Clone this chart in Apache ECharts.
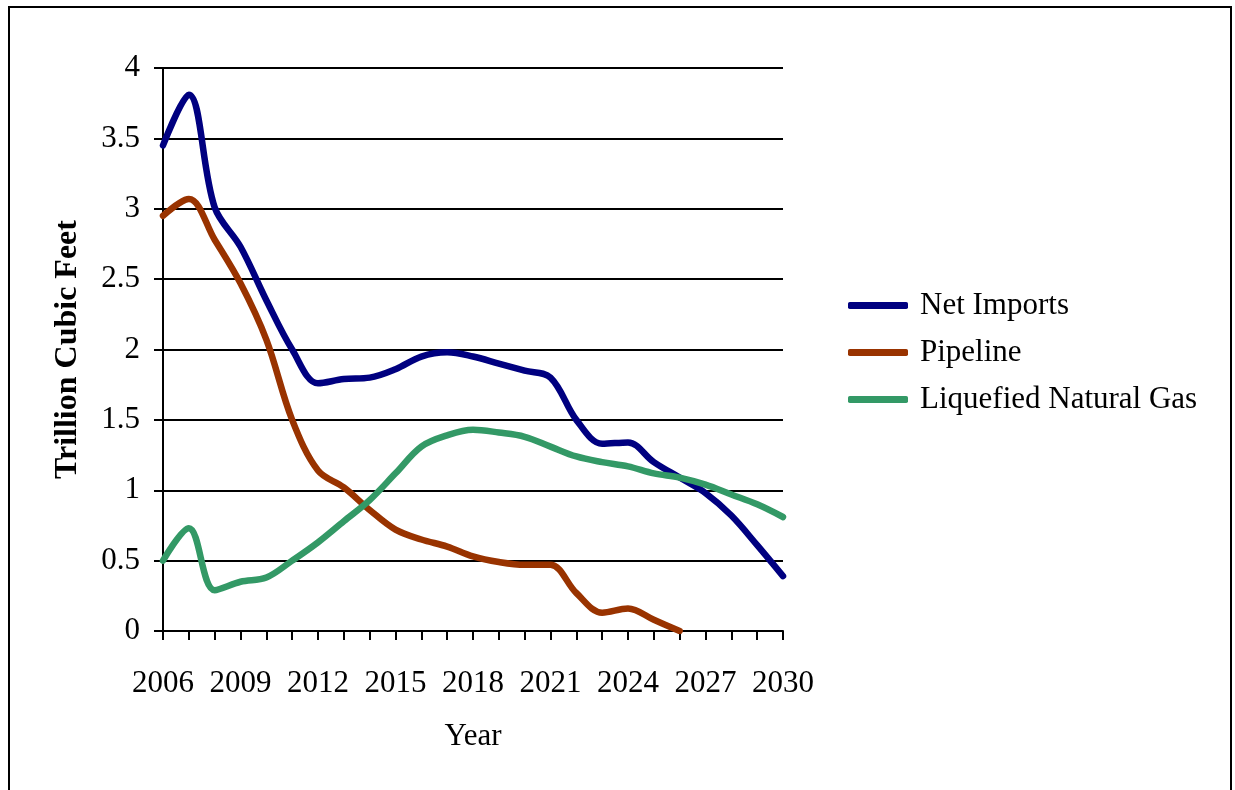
<!DOCTYPE html>
<html>
<head>
<meta charset="utf-8">
<script src="https://cdn.jsdelivr.net/npm/echarts@6/dist/echarts.min.js"></script>
<style>
  html, body { margin: 0; padding: 0; background: #fff; }
  #chart { width: 1235px; height: 790px; }
</style>
</head>
<body>
<div id="chart"></div>
<script>
// Years on the horizontal axis
const years = ['2006','2007','2008','2009','2010','2011','2012','2013','2014','2015','2016','2017','2018',
               '2019','2020','2021','2022','2023','2024','2025','2026','2027','2028','2029','2030'];

// Trillion cubic feet per year
const netImports = [3.45, 3.81, 3.01, 2.73, 2.35, 2.00, 1.76, 1.79, 1.80, 1.86, 1.95, 1.98, 1.95,
                    1.90, 1.85, 1.80, 1.50, 1.33, 1.34, 1.20, 1.09, 0.98, 0.82, 0.61, 0.39];
const pipeline   = [2.95, 3.07, 2.78, 2.47, 2.07, 1.50, 1.14, 1.02, 0.86, 0.72, 0.65, 0.60, 0.53,
                    0.49, 0.47, 0.47, 0.27, 0.13, 0.16, 0.08, 0.00, null, null, null, null];
const lng        = [0.50, 0.73, 0.29, 0.35, 0.38, 0.50, 0.63, 0.78, 0.93, 1.12, 1.31, 1.39, 1.43,
                    1.41, 1.38, 1.31, 1.24, 1.20, 1.17, 1.12, 1.09, 1.04, 0.97, 0.90, 0.81];

const seriesNames = ['Net Imports', 'Pipeline', 'Liquefied Natural Gas'];
const seriesColors = ['#000080', '#993300', '#339966'];

const FONT = '"Liberation Serif", "Times New Roman", serif';
const FS = 31;

function lineSeries(name, data, color) {
  return {
    name: name,
    type: 'line',
    data: data,
    smooth: 0.35,
    showSymbol: false,
    connectNulls: false,
    lineStyle: { color: color, width: 6.5, cap: 'round', join: 'round' },
    itemStyle: { color: color },
    emphasis: { disabled: true }
  };
}

const chart = echarts.init(document.getElementById('chart'), null, { renderer: 'canvas' });
chart.setOption({
  animation: false,
  backgroundColor: '#fff',
  textStyle: { fontFamily: FONT, color: '#000' },
  graphic: [{
    type: 'rect',
    shape: { x: 9, y: 7, width: 1222, height: 800 },
    style: { fill: 'none', stroke: '#000', lineWidth: 2 },
    silent: true
  }],
  grid: { left: 163, top: 68, right: 452, bottom: 159, containLabel: false },
  legend: {
    orient: 'vertical',
    left: 843,
    top: 285,
    itemWidth: 60,
    itemHeight: 7,
    itemGap: 16,
    icon: 'roundRect',
    data: seriesNames,
    textStyle: { fontFamily: FONT, fontSize: FS, color: '#000', padding: [0, 0, 0, 7] },
    selectedMode: false
  },
  xAxis: {
    type: 'category',
    data: years,
    boundaryGap: false,
    name: 'Year',
    nameLocation: 'middle',
    nameGap: 90,
    nameTextStyle: { fontFamily: FONT, fontSize: FS, color: '#000' },
    axisLine: { lineStyle: { color: '#000', width: 2 } },
    axisTick: { show: true, interval: 0, length: 9, inside: false, lineStyle: { color: '#000', width: 2 } },
    axisLabel: { interval: 2, margin: 37, fontFamily: FONT, fontSize: FS, color: '#000' },
    splitLine: { show: false }
  },
  yAxis: {
    type: 'value',
    min: 0,
    max: 4,
    interval: 0.5,
    name: 'Trillion Cubic Feet',
    nameLocation: 'middle',
    nameGap: 79,
    nameRotate: 90,
    nameTextStyle: { fontFamily: FONT, fontSize: 32, fontWeight: 'bold', color: '#000' },
    axisLine: { show: true, lineStyle: { color: '#000', width: 2 } },
    axisTick: { show: true, length: 9, lineStyle: { color: '#000', width: 2 } },
    axisLabel: { margin: 23, fontFamily: FONT, fontSize: FS, color: '#000' },
    splitLine: { show: true, lineStyle: { color: '#000', width: 2 } }
  },
  series: [
    lineSeries(seriesNames[0], netImports, seriesColors[0]),
    lineSeries(seriesNames[1], pipeline, seriesColors[1]),
    lineSeries(seriesNames[2], lng, seriesColors[2])
  ]
});
</script>
</body>
</html>
